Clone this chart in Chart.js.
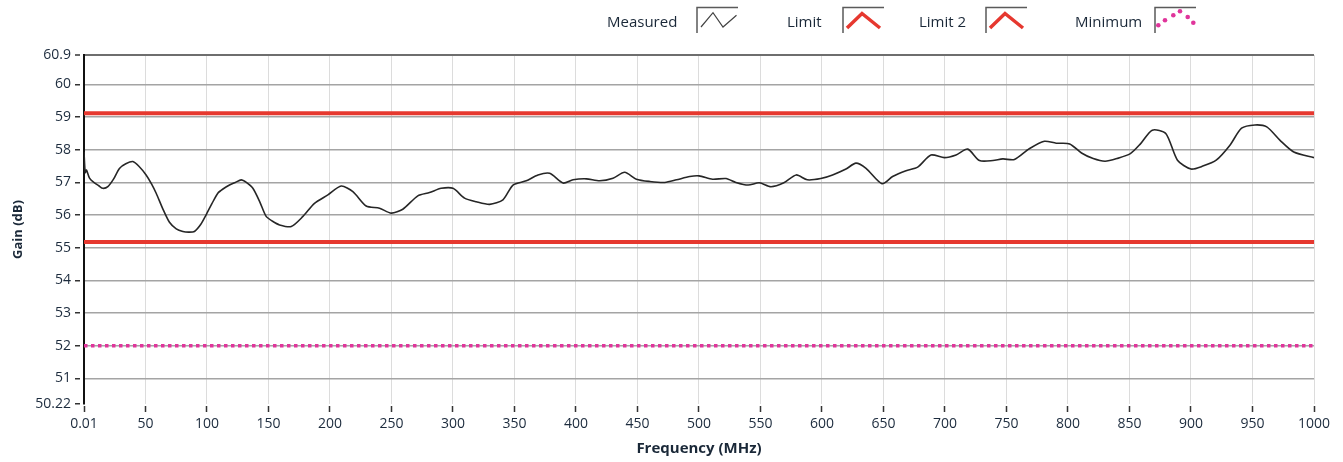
<!DOCTYPE html>
<html><head><meta charset="utf-8">
<script src="https://cdn.jsdelivr.net/npm/chart.js@4.4.0/dist/chart.umd.min.js"></script>
<style>html,body{margin:0;padding:0;background:#fff}#wrap{width:1343px;height:462px;position:relative}</style>
</head><body><div id="wrap"><canvas id="c"></canvas></div>
<script>
const freqMHz = [
  0.01, 1, 2, 4.5, 8, 12, 15.3, 19.4, 24, 28.8,
  34, 39.7, 45, 50.5, 55, 58.7, 64, 69.5, 75, 80.4,
  85, 89.8, 95, 99.3, 104, 108.8, 113, 118.3, 123, 127.8,
  132, 137.3, 143, 148.1, 153, 159, 168.5, 178, 187.4, 198.3,
  209.1, 218.6, 229.4, 240.3, 249.8, 259.2, 271.4, 280.9, 290.4, 300,
  309.4, 318.9, 329.8, 340.6, 348.8, 359.6, 369.1, 378.6, 389.5, 397.6,
  408.4, 419.3, 430.1, 439.6, 449.1, 460, 472.2, 481.7, 492.5, 500,
  511, 522, 530, 540, 549, 558.5, 569, 579, 588, 599,
  608.6, 619.5, 627.6, 635.8, 648.8, 657.4, 668.3, 677.8, 688.6, 699.5,
  709, 718.5, 728, 739, 747, 756.4, 768.5, 780.8, 790.4, 801.4,
  811, 820.5, 830.1, 839.7, 850.7, 858.9, 868.5, 879.5, 889, 900,
  909.6, 920.5, 931.5, 941.1, 952, 961.6, 972.6, 983.6, 1000
];
const measuredGain = [
  57.93, 57.3, 57.38, 57.13, 57.0, 56.9, 56.82, 56.87, 57.1, 57.43,
  57.57, 57.64, 57.48, 57.23, 56.95, 56.67, 56.2, 55.78, 55.58, 55.5,
  55.48, 55.5, 55.72, 56.01, 56.35, 56.67, 56.8, 56.92, 57.0, 57.08,
  57.0, 56.82, 56.4, 55.96, 55.82, 55.7, 55.65, 55.96, 56.36, 56.62,
  56.89, 56.72, 56.28, 56.21, 56.06, 56.18, 56.59, 56.69, 56.82, 56.82,
  56.52, 56.41, 56.33, 56.47, 56.92, 57.05, 57.23, 57.28, 56.98, 57.08,
  57.11, 57.05, 57.13, 57.31, 57.1, 57.03, 57.0, 57.08, 57.18, 57.2,
  57.1, 57.12, 57.0, 56.92, 56.99, 56.87, 56.99, 57.23, 57.08, 57.12,
  57.23, 57.41, 57.59, 57.43, 56.96, 57.18, 57.36, 57.47, 57.84, 57.76,
  57.84, 58.02, 57.67, 57.67, 57.72, 57.7, 58.03, 58.26, 58.2, 58.18,
  57.9, 57.73, 57.65, 57.73, 57.88, 58.18, 58.6, 58.5, 57.68, 57.41,
  57.5, 57.68, 58.13, 58.66, 58.76, 58.7, 58.28, 57.93, 57.76
];
const limitFreq = [0.01, 1000];
const limitGain = [59.12, 59.12];
const limit2Gain = [55.18, 55.18];
const minimumGain = [52, 52];
const seriesNames = ['Measured', 'Limit', 'Limit 2', 'Minimum'];
const xTicks = [0.01, 50, 100, 150, 200, 250, 300, 350, 400, 450, 500, 550, 600, 650, 700, 750, 800, 850, 900, 950, 1000];
const yTicks = [50.22, 51, 52, 53, 54, 55, 56, 57, 58, 59, 60, 60.9];
const xTitle = 'Frequency (MHz)';
const yTitle = 'Gain (dB)';

const pts = (xs, ys) => xs.map((x, i) => ({x: x, y: ys[i]}));
const FONT = '"Open Sans", "Noto Sans", sans-serif';
const TXT = '#1c2b3d';

const legendPlugin = {
  id: 'refLegend',
  afterDraw(chart) {
    const ctx = chart.ctx;
    ctx.save();
    ctx.font = '15px ' + FONT;
    ctx.textBaseline = 'alphabetic';
    const items = [
      {text: seriesNames[0], tx: 607, bx: 697, type: 'measured'},
      {text: seriesNames[1], tx: 787, bx: 843, type: 'limit'},
      {text: seriesNames[2], tx: 919, bx: 986, type: 'limit'},
      {text: seriesNames[3], tx: 1075, bx: 1155, type: 'minimum'}
    ];
    items.forEach(it => {
      ctx.fillStyle = '#1a2838';
      ctx.fillText(it.text, it.tx, 27);
      ctx.strokeStyle = '#5a5a5a';
      ctx.lineWidth = 1.5;
      ctx.setLineDash([]);
      ctx.beginPath();
      ctx.moveTo(it.bx, 33); ctx.lineTo(it.bx, 7.5); ctx.lineTo(it.bx + 41, 7.5);
      ctx.stroke();
      const b = it.bx;
      if (it.type === 'measured') {
        ctx.strokeStyle = '#444'; ctx.lineWidth = 1.2;
        ctx.beginPath();
        ctx.moveTo(b + 4, 27); ctx.lineTo(b + 16, 12.7); ctx.lineTo(b + 26, 27); ctx.lineTo(b + 39.5, 15.3);
        ctx.stroke();
      } else if (it.type === 'limit') {
        ctx.strokeStyle = '#e6382f'; ctx.lineWidth = 3.5;
        ctx.beginPath();
        ctx.moveTo(b + 4, 28); ctx.lineTo(b + 19, 13.5); ctx.lineTo(b + 37, 28);
        ctx.stroke();
      } else {
        ctx.fillStyle = '#e0359b';
        [[3.3,25.3],[10,20.3],[18.3,15.3],[25,11.3],[32.7,17],[38.3,22.7]].forEach(p => {
          ctx.beginPath(); ctx.arc(b + p[0], p[1], 2.3, 0, Math.PI * 2); ctx.fill();
        });
      }
    });
    ctx.restore();
  }
};

new Chart(document.getElementById('c'), {
  type: 'line',
  data: {
    datasets: [
      {label: seriesNames[0], data: pts(freqMHz, measuredGain), borderColor: '#262626', borderWidth: 1.6, pointRadius: 0, tension: 0.25, order: 0},
      {label: seriesNames[1], data: pts(limitFreq, limitGain), borderColor: '#e6382f', borderWidth: 4, pointRadius: 0, order: 1},
      {label: seriesNames[2], data: pts(limitFreq, limit2Gain), borderColor: '#e6382f', borderWidth: 4, pointRadius: 0, order: 2},
      {label: seriesNames[3], data: pts(limitFreq, minimumGain), borderColor: '#e0359b', borderWidth: 3.5, borderDash: [3.5, 3.5], pointRadius: 0, order: 3}
    ]
  },
  options: {
    responsive: true,
    maintainAspectRatio: false,
    animation: false,
    devicePixelRatio: 1,
    layout: {padding: {left: 0, right: 29, top: 55, bottom: 0}},
    plugins: {legend: {display: false}, tooltip: {enabled: false}},
    scales: {
      x: {
        type: 'linear', min: 0.01, max: 1000,
        afterBuildTicks: s => { s.ticks = xTicks.map(v => ({value: v})); },
        afterFit: s => { s.height = 58; },
        ticks: {autoSkip: false, maxRotation: 0, padding: 4, color: TXT, font: {family: FONT, size: 14}, callback: v => String(v)},
        grid: {color: '#dcdcdc', lineWidth: 1, tickLength: 8, tickColor: '#333', tickWidth: 1.5, tickBorderDash: [0, 2, 6]},
        border: {display: false},
        title: {display: true, text: xTitle, color: '#1a2838', font: {family: FONT, size: 15, weight: 'bold'}, padding: {top: 0, bottom: 4.5}}
      },
      y: {
        type: 'linear', min: 50.22, max: 60.9,
        afterBuildTicks: s => { s.ticks = yTicks.map(v => ({value: v})); },
        afterFit: s => { s.width = 84; },
        ticks: {padding: 4, color: TXT, font: {family: FONT, size: 14}, callback: v => String(v)},
        grid: {
          color: c => c.tick && c.tick.value === 60.9 ? '#6e6e6e' : (c.tick && c.tick.value === 50.22 ? 'rgba(0,0,0,0)' : '#a4a4a4'),
          lineWidth: c => c.tick && c.tick.value === 60.9 ? 2 : 1.5,
          tickLength: 9, tickColor: '#333', tickWidth: 1.5, tickBorderDash: [5, 4]
        },
        border: {display: true, color: '#111', width: 2},
        title: {display: true, text: yTitle, color: '#1a2838', font: {family: FONT, size: 13, weight: 'bold'}, padding: {top: 10, bottom: 0}}
      }
    }
  },
  plugins: [legendPlugin]
});
</script>
</body></html>
